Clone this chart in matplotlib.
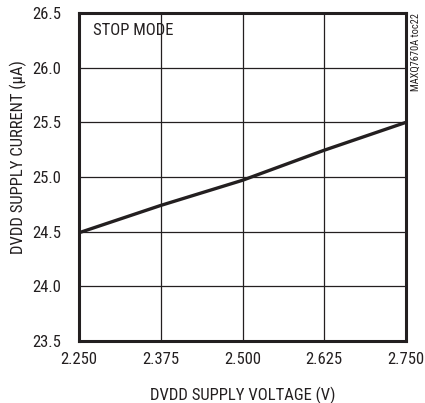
import matplotlib
matplotlib.use('Agg')
import matplotlib.pyplot as plt
from matplotlib import font_manager

# pick a narrow sans if one is installed
names = set(f.name for f in font_manager.fontManager.ttflist)
fam = 'Roboto'
for cand in ['Liberation Sans Narrow', 'Roboto Condensed', 'Noto Sans Condensed', 'Open Sans Condensed']:
    if cand in names:
        fam = cand
        break
plt.rcParams['font.family'] = [fam, 'DejaVu Sans']

# data
voltage = [2.250, 2.375, 2.500, 2.625, 2.750]
current = [24.49, 24.74, 24.97, 25.245, 25.50]
x_ticks = [2.250, 2.375, 2.500, 2.625, 2.750]
x_labels = ['2.250', '2.375', '2.500', '2.625', '2.750']
y_ticks = [23.5, 24.0, 24.5, 25.0, 25.5, 26.0, 26.5]
y_labels = ['23.5', '24.0', '24.5', '25.0', '25.5', '26.0', '26.5']

ink = '#231f20'
fs = 12

fig = plt.figure(figsize=(4.25, 4.03), dpi=100)
ax = fig.add_axes([79/425, 1 - 341/403, (406-79)/425, (341-13)/403])

ax.plot(voltage, current, color=ink, lw=2.4, solid_capstyle='butt', zorder=3)

ax.set_xlim(2.25, 2.75)
ax.set_ylim(23.5, 26.5)
ax.set_xticks(x_ticks)
ax.set_xticklabels(x_labels)
ax.set_yticks(y_ticks)
ax.set_yticklabels(y_labels)
ax.tick_params(length=0, labelsize=fs, colors=ink)
ax.tick_params(axis='x', pad=8)
ax.tick_params(axis='y', pad=13)
ax.grid(True, color=ink, lw=0.9)
for s in ax.spines.values():
    s.set_linewidth(2.2)
    s.set_color(ink)

ax.set_xlabel('DVDD SUPPLY VOLTAGE (V)', fontsize=fs, color=ink, labelpad=14)
ax.set_ylabel('DVDD SUPPLY CURRENT (\u03bcA)', fontsize=fs, color=ink)
ax.yaxis.set_label_coords(-0.16, 0.56)

ax.text(0.043, 0.968, 'STOP MODE', transform=ax.transAxes, fontsize=fs,
        color=ink, ha='left', va='top')
fig.text(416/425, 1 - 13/403, 'MAXQ7670A toc22', rotation=90, fontsize=7.5,
         color=ink, ha='center', va='top')

fig.savefig('out.png', dpi=100)
